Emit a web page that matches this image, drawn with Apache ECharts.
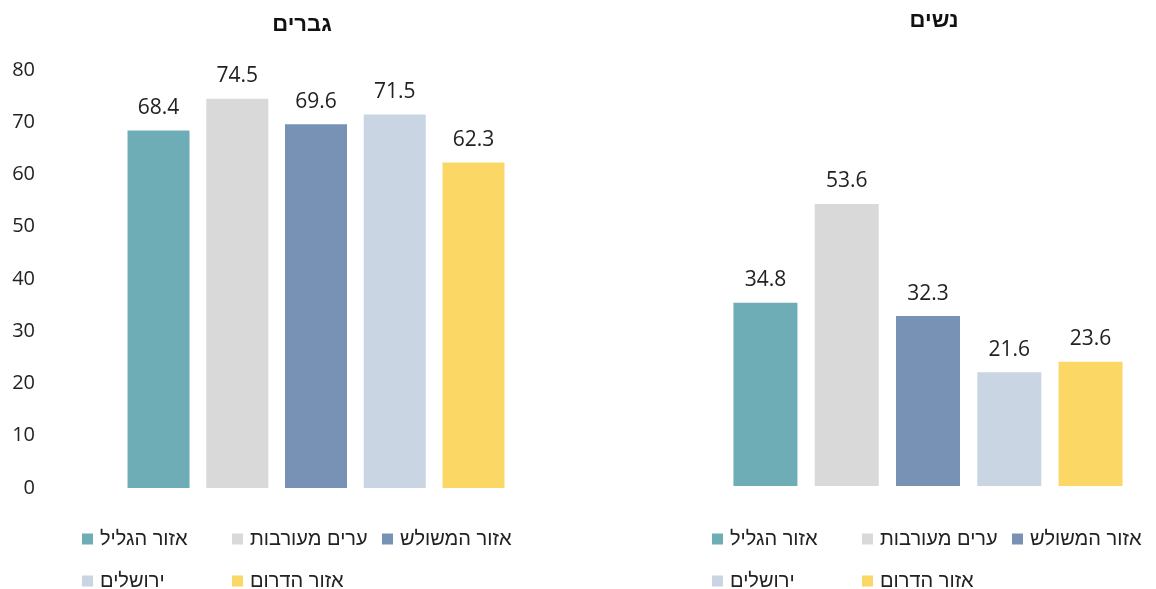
<!DOCTYPE html>
<html><head><meta charset="utf-8">
<script src="https://cdn.jsdelivr.net/npm/echarts@6/dist/echarts.min.js"></script>
<style>html,body{margin:0;padding:0;background:#fff}#c{width:1156px;height:589px}</style>
</head><body><div id="c"></div>
<script>
const regions = ['אזור הגליל', 'ערים מעורבות', 'אזור המשולש', 'ירושלים', 'אזור הדרום'];
const colors = ['#6FADB6', '#D9D9D9', '#7892B5', '#C9D5E3', '#FBD766'];
const menValues = [68.4, 74.5, 69.6, 71.5, 62.3];
const womenValues = [34.8, 53.6, 32.3, 21.6, 23.6];
const panelTitles = ['גברים', 'נשים'];
const yTicks = [0, 10, 20, 30, 40, 50, 60, 70, 80];

const FONT = '"Liberation Sans", "Open Sans", sans-serif';
const NUMFONT = '"Open Sans", "Liberation Sans", sans-serif';
const chart = echarts.init(document.getElementById('c'), null, {renderer: 'canvas'});

const series = [];
[menValues, womenValues].forEach((vals, gi) => {
  regions.forEach((r, i) => {
    series.push({
      type: 'bar', name: r, xAxisIndex: gi, yAxisIndex: gi,
      data: [vals[i]],
      barWidth: gi === 0 ? 62 : 64,
      barGap: '27%',
      itemStyle: {color: colors[i]},
      label: {show: true, position: 'top', distance: 12, color: '#222', fontSize: 21, fontFamily: NUMFONT},
      emphasis: {disabled: true}
    });
  });
});

const legendCols = [0, 150, 300, 0, 150];
const legendRows = [0, 0, 0, 1, 1];
const legends = [];
[77, 707].forEach((baseX, gi) => {
  regions.forEach((r, i) => {
    legends.push({
      data: [r], left: baseX + legendCols[i], top: 524 + legendRows[i] * 42,
      itemWidth: 11, itemHeight: 11, itemGap: 0,
      textStyle: {fontSize: 20, color: '#222', fontFamily: FONT, padding: [0, 0, 0, 2]},
      icon: 'rect', selectedMode: false
    });
  });
});

chart.setOption({
  animation: false,
  title: [
    {text: panelTitles[0], left: 297, top: 9, textAlign: 'center', textStyle: {fontSize: 22, fontWeight: 'bold', color: '#111', fontFamily: FONT}},
    {text: panelTitles[1], left: 929, top: 5, textAlign: 'center', textStyle: {fontSize: 22, fontWeight: 'bold', color: '#111', fontFamily: FONT}}
  ],
  legend: legends,
  grid: [
    {left: 116, width: 400, top: 70, bottom: 101},
    {left: 723, width: 410, top: 65, bottom: 103}
  ],
  xAxis: [
    {type: 'category', gridIndex: 0, data: [''], show: false},
    {type: 'category', gridIndex: 1, data: [''], show: false}
  ],
  yAxis: [
    {type: 'value', gridIndex: 0, min: yTicks[0], max: yTicks[yTicks.length - 1], interval: 10,
      axisLine: {show: false}, axisTick: {show: false}, splitLine: {show: false},
      axisLabel: {margin: 81, fontSize: 20, color: '#222', fontFamily: NUMFONT}},
    {type: 'value', gridIndex: 1, min: 0, max: 80, interval: 10, show: false, splitLine: {show: false}}
  ],
  series: series
});
</script></body></html>
